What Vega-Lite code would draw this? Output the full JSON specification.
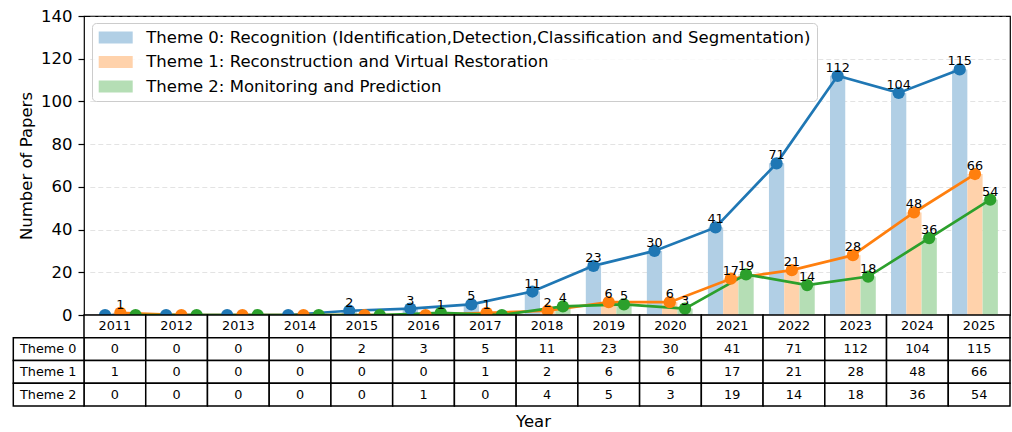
{
  "$schema": "https://vega.github.io/schema/vega-lite/v6.json",
  "width": 926,
  "height": 299,
  "autosize": {"type": "none"},
  "padding": {"left": 84, "top": 16, "right": 2, "bottom": 117},
  "config": {
    "font": "DejaVu Sans",
    "view": {"stroke": "black", "strokeWidth": 1.2},
    "text": {"font": "DejaVu Sans"}
  },
  "data": {
    "values": [
      {"year": "2011", "theme": "Theme 0", "value": 0},
      {"year": "2012", "theme": "Theme 0", "value": 0},
      {"year": "2013", "theme": "Theme 0", "value": 0},
      {"year": "2014", "theme": "Theme 0", "value": 0},
      {"year": "2015", "theme": "Theme 0", "value": 2},
      {"year": "2016", "theme": "Theme 0", "value": 3},
      {"year": "2017", "theme": "Theme 0", "value": 5},
      {"year": "2018", "theme": "Theme 0", "value": 11},
      {"year": "2019", "theme": "Theme 0", "value": 23},
      {"year": "2020", "theme": "Theme 0", "value": 30},
      {"year": "2021", "theme": "Theme 0", "value": 41},
      {"year": "2022", "theme": "Theme 0", "value": 71},
      {"year": "2023", "theme": "Theme 0", "value": 112},
      {"year": "2024", "theme": "Theme 0", "value": 104},
      {"year": "2025", "theme": "Theme 0", "value": 115},
      {"year": "2011", "theme": "Theme 1", "value": 1},
      {"year": "2012", "theme": "Theme 1", "value": 0},
      {"year": "2013", "theme": "Theme 1", "value": 0},
      {"year": "2014", "theme": "Theme 1", "value": 0},
      {"year": "2015", "theme": "Theme 1", "value": 0},
      {"year": "2016", "theme": "Theme 1", "value": 0},
      {"year": "2017", "theme": "Theme 1", "value": 1},
      {"year": "2018", "theme": "Theme 1", "value": 2},
      {"year": "2019", "theme": "Theme 1", "value": 6},
      {"year": "2020", "theme": "Theme 1", "value": 6},
      {"year": "2021", "theme": "Theme 1", "value": 17},
      {"year": "2022", "theme": "Theme 1", "value": 21},
      {"year": "2023", "theme": "Theme 1", "value": 28},
      {"year": "2024", "theme": "Theme 1", "value": 48},
      {"year": "2025", "theme": "Theme 1", "value": 66},
      {"year": "2011", "theme": "Theme 2", "value": 0},
      {"year": "2012", "theme": "Theme 2", "value": 0},
      {"year": "2013", "theme": "Theme 2", "value": 0},
      {"year": "2014", "theme": "Theme 2", "value": 0},
      {"year": "2015", "theme": "Theme 2", "value": 0},
      {"year": "2016", "theme": "Theme 2", "value": 1},
      {"year": "2017", "theme": "Theme 2", "value": 0},
      {"year": "2018", "theme": "Theme 2", "value": 4},
      {"year": "2019", "theme": "Theme 2", "value": 5},
      {"year": "2020", "theme": "Theme 2", "value": 3},
      {"year": "2021", "theme": "Theme 2", "value": 19},
      {"year": "2022", "theme": "Theme 2", "value": 14},
      {"year": "2023", "theme": "Theme 2", "value": 18},
      {"year": "2024", "theme": "Theme 2", "value": 36},
      {"year": "2025", "theme": "Theme 2", "value": 54}
    ]
  },
  "layer": [
    {
      "layer": [
        {
          "mark": {"type": "bar"},
          "encoding": {
            "x": {"field": "year", "type": "ordinal", "scale": {"type": "band", "range": [5.8, 921.5], "paddingInner": 0, "paddingOuter": 0}, "axis": null},
            "xOffset": {"field": "theme", "type": "nominal", "scale": {"paddingInner": 0, "paddingOuter": 0.5}},
            "y": {
              "field": "value", "type": "quantitative",
              "scale": {"domain": [0, 140], "nice": false},
              "title": "Number of Papers",
              "axis": {
                "values": [0, 20, 40, 60, 80, 100, 120, 140],
                "grid": true, "gridDash": [5, 3], "gridColor": "#b0b0b0", "gridOpacity": 0.35,
                "domain": false, "tickColor": "black", "tickSize": 6, "tickWidth": 1.2,
                "labelPadding": 6, "labelFontSize": 16.5, "labelColor": "black", "labelFlush": false, "labelOverlap": false,
                "titleFontSize": 16.5, "titleFontWeight": "normal", "titleColor": "black", "titlePadding": 6
              }
            },
            "fill": {
              "field": "theme", "type": "nominal",
              "scale": {"range": ["#b1cfe5", "#ffd2ab", "#b5deb5"]},
              "legend": {
                "orient": "none", "legendX": 8, "legendY": 7, "title": null,
                "labelExpr": "datum.label == 'Theme 0' ? 'Theme 0: Recognition (Identification,Detection,Classification and Segmentation)' : datum.label == 'Theme 1' ? 'Theme 1: Reconstruction and Virtual Restoration' : 'Theme 2: Monitoring and Prediction'",
                "labelFontSize": 16.5, "labelColor": "black", "labelLimit": 1000,
                "symbolType": "M-2,-0.706L2,-0.706L2,0.706L-2,0.706Z", "symbolSize": 289, "symbolStrokeWidth": 0, "symbolOpacity": 1,
                "symbolOffset": 9.2, "labelOffset": 22, "rowPadding": 7.5, "padding": 6,
                "fillColor": "rgba(255,255,255,0.8)", "strokeColor": "#cccccc", "cornerRadius": 4
              }
            }
          }
        },
        {
          "mark": {"type": "line", "strokeWidth": 2.7},
          "encoding": {
            "x": {"field": "year", "type": "ordinal"},
            "xOffset": {"field": "theme", "type": "nominal"},
            "y": {"field": "value", "type": "quantitative"},
            "color": {"field": "theme", "type": "nominal", "scale": {"range": ["#1f77b4", "#ff7f0e", "#2ca02c"]}, "legend": null}
          }
        },
        {
          "mark": {"type": "point", "filled": true, "size": 150, "opacity": 1},
          "encoding": {
            "x": {"field": "year", "type": "ordinal"},
            "xOffset": {"field": "theme", "type": "nominal"},
            "y": {"field": "value", "type": "quantitative"},
            "color": {"field": "theme", "type": "nominal", "legend": null}
          }
        },
        {
          "transform": [{"filter": "datum.value > 0"}],
          "mark": {"type": "text", "dy": -4, "baseline": "alphabetic", "fontSize": 12.8, "color": "black"},
          "encoding": {
            "x": {"field": "year", "type": "ordinal"},
            "xOffset": {"field": "theme", "type": "nominal"},
            "y": {"field": "value", "type": "quantitative"},
            "text": {"field": "value", "type": "quantitative"}
          }
        }
      ]
    },
    {
      "layer": [
        {
          "transform": [{"filter": "datum.theme == 'Theme 0'"}],
          "mark": {"type": "rect", "fill": "white", "stroke": "black", "strokeWidth": 1.5},
          "encoding": {
            "x": {"field": "year", "type": "ordinal", "scale": {"type": "band", "range": [0, 926], "paddingInner": 0, "paddingOuter": 0},
                  "axis": {"orient": "bottom", "title": "Year", "labels": false, "ticks": false, "domain": false, "grid": false, "offset": 91, "titlePadding": 7, "titleX": 449, "titleFontSize": 16.5, "titleFontWeight": "normal", "titleColor": "black"}},
            "y": {"datum": "hdr", "type": "nominal", "scale": {"type": "band", "domain": ["hdr", "Theme 0", "Theme 1", "Theme 2"], "range": [299, 390], "paddingInner": 0, "paddingOuter": 0}, "axis": null}
          }
        },
        {
          "transform": [{"filter": "datum.theme == 'Theme 0'"}],
          "mark": {"type": "text", "fontSize": 12.8, "color": "black"},
          "encoding": {
            "x": {"field": "year", "type": "ordinal",
                  "axis": {"orient": "bottom", "title": "Year", "labels": false, "ticks": false, "domain": false, "grid": false, "offset": 91, "titlePadding": 7, "titleX": 449, "titleFontSize": 16.5, "titleFontWeight": "normal", "titleColor": "black"}},
            "y": {"datum": "hdr", "type": "nominal", "axis": null},
            "text": {"field": "year", "type": "nominal"}
          }
        },
        {
          "mark": {"type": "rect", "fill": "white", "stroke": "black", "strokeWidth": 1.5},
          "encoding": {
            "x": {"field": "year", "type": "ordinal",
                  "axis": {"orient": "bottom", "title": "Year", "labels": false, "ticks": false, "domain": false, "grid": false, "offset": 91, "titlePadding": 7, "titleX": 449, "titleFontSize": 16.5, "titleFontWeight": "normal", "titleColor": "black"}},
            "y": {"field": "theme", "type": "nominal", "axis": null}
          }
        },
        {
          "mark": {"type": "text", "fontSize": 12.8, "color": "black"},
          "encoding": {
            "x": {"field": "year", "type": "ordinal",
                  "axis": {"orient": "bottom", "title": "Year", "labels": false, "ticks": false, "domain": false, "grid": false, "offset": 91, "titlePadding": 7, "titleX": 449, "titleFontSize": 16.5, "titleFontWeight": "normal", "titleColor": "black"}},
            "y": {"field": "theme", "type": "nominal", "axis": null},
            "text": {"field": "value", "type": "quantitative"}
          }
        }
      ]
    },
    {
      "transform": [{"filter": "datum.year == '2011'"}],
      "layer": [
        {
          "mark": {"type": "rect", "fill": "white", "stroke": "black", "strokeWidth": 1.5},
          "encoding": {
            "x": {"datum": "lbl", "type": "nominal", "scale": {"type": "band", "domain": ["lbl"], "range": [-70.7, 0], "paddingInner": 0, "paddingOuter": 0}, "axis": null},
            "y": {"field": "theme", "type": "nominal", "scale": {"type": "band", "domain": ["hdr", "Theme 0", "Theme 1", "Theme 2"], "range": [299, 390], "paddingInner": 0, "paddingOuter": 0}, "axis": null}
          }
        },
        {
          "mark": {"type": "text", "align": "left", "dx": 6.7, "fontSize": 12.8, "color": "black"},
          "encoding": {
            "x": {"datum": "lbl", "type": "nominal", "bandPosition": 0, "axis": null},
            "y": {"field": "theme", "type": "nominal", "axis": null},
            "text": {"field": "theme", "type": "nominal"}
          }
        }
      ]
    }
  ],
  "resolve": {"scale": {"x": "independent", "y": "independent"}, "axis": {"x": "independent", "y": "independent"}}
}
